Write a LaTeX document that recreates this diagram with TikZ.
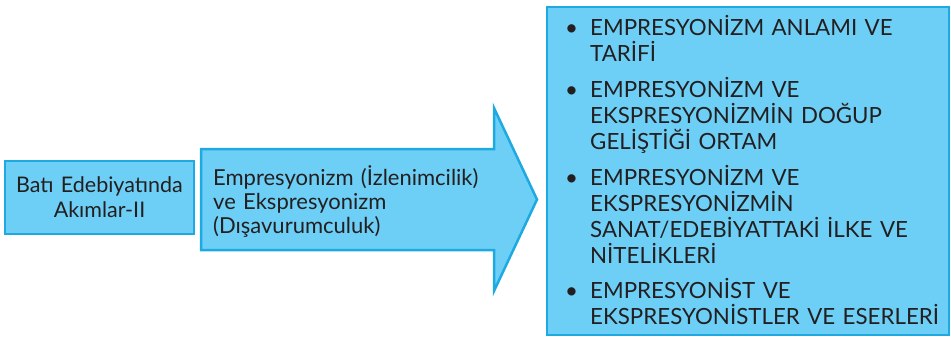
\documentclass[tikz,border=0pt]{standalone}
\usepackage{fontspec}
\setmainfont{Lato}
\usetikzlibrary{positioning}
\definecolor{boxfill}{HTML}{6DCFF6}
\definecolor{boxline}{HTML}{1FA9E1}
\definecolor{ink}{HTML}{231F20}
\newcommand{\madde}[1]{\hyphenpenalty=10000\hangindent=25pt\hangafter=1\makebox[25pt][l]{•}#1\par}

\begin{document}
\begin{tikzpicture}[x=1pt, y=-1pt, every node/.style={text=ink},
  box/.style={draw=boxline, fill=boxfill, line width=2.5pt},
  entry/.style={anchor=base west, inner sep=0pt, text width=380pt, font=\fontsize{22.3}{26}\selectfont}]
\useasboundingbox (0,0) rectangle (951,337);
% left box
\node[box, minimum width=189pt, minimum height=73pt, text width=180pt, align=center, font=\fontsize{21.5}{25}\selectfont] (akim) at (99.5,197.5) {Batı Edebiyatında\\Akımlar-II};
% big arrow
\draw[box] (201,149) -- (494,149) -- (494,108) -- (537,199.5) -- (494,291) -- (494,250) -- (201,250) -- cycle;
\node[anchor=base west, inner sep=0pt, text width=300pt, align=left, font=\fontsize{22}{24}\selectfont] (konu) at (213,185.5) {Empresyonizm (İzlenimcilik)\\ve Ekspresyonizm\\(Dışavurumculuk)};
% list box
\node[box, minimum width=402pt, minimum height=328pt] (liste) at (748,171) {};
\node[entry] (m1) at (565,36) {\madde{EMPRESYONİZM ANLAMI VE\newline TARİFİ}};
\node[entry] (m2) at (565,97.5) {\madde{EMPRESYONİZM VE\newline EKSPRESYONİZMİN DOĞUP\newline GELİŞTİĞİ ORTAM}};
\node[entry] (m3) at (565,185) {\madde{EMPRESYONİZM VE\newline EKSPRESYONİZMİN\newline SANAT/EDEBİYATTAKİ İLKE VE\newline NİTELİKLERİ}};
\node[entry] (m4) at (565,298.5) {\madde{EMPRESYONİST VE\newline EKSPRESYONİSTLER VE ESERLERİ}};
\end{tikzpicture}
\end{document}
